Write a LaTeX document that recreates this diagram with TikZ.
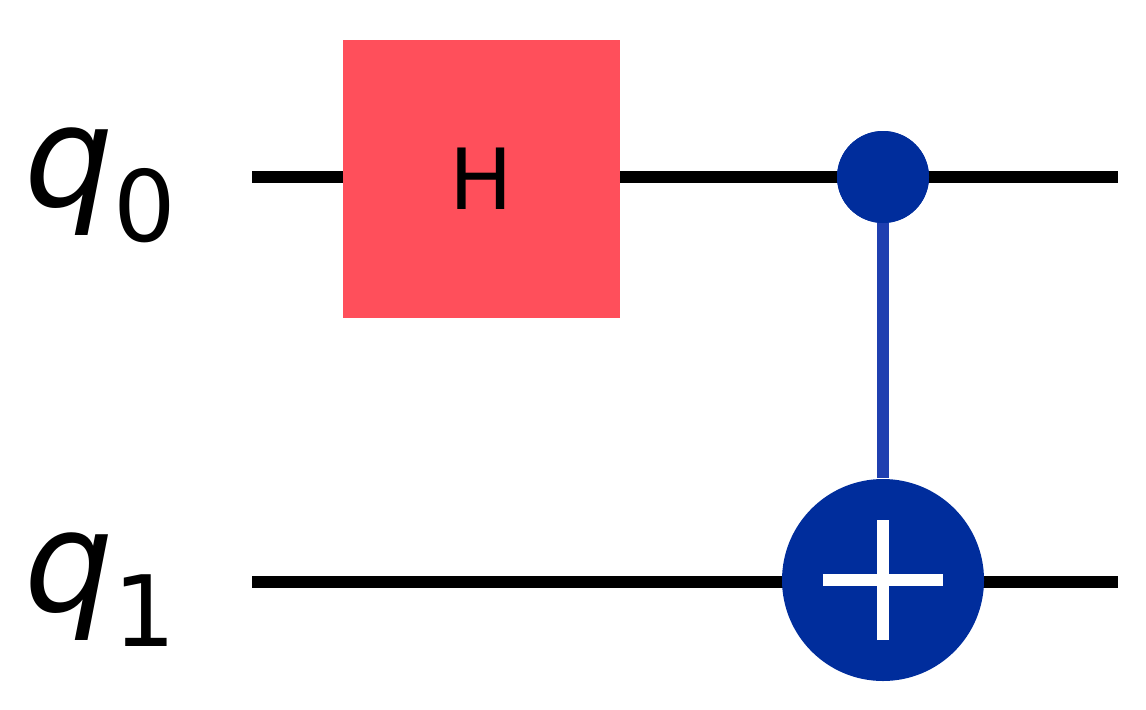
\documentclass[tikz,border=0pt]{standalone}
\usepackage{fontspec}
\setmainfont{DejaVu Sans}
\definecolor{hred}{HTML}{FF4F5B}
\definecolor{cblue}{HTML}{002D9C}
\definecolor{lblue}{HTML}{1F3FB0}
\begin{document}
\begin{tikzpicture}[x=0.01cm,y=-0.01cm,
  wire/.style={line width=12*0.2845pt},
  lbl/.style={font=\fontsize{40}{44}\selectfont}]
\useasboundingbox (0,0) rectangle (1146,709);
\node[lbl] (l0) at (100,185) {\textit{q}\raisebox{-0.25em}{\fontsize{28}{30}\selectfont 0}};
\node[lbl] (l1) at (100,590) {\textit{q}\raisebox{-0.25em}{\fontsize{28}{30}\selectfont 1}};
\coordinate (a0) at (252,177); \coordinate (b0) at (1118,177);
\coordinate (a1) at (252,582); \coordinate (b1) at (1118,582);
\draw[wire] (a0) -- (b0);
\draw[wire] (a1) -- (b1);
\node[fill=hred,minimum width=277*0.01cm,minimum height=278*0.01cm,inner sep=0,font=\fontsize{24}{26}\selectfont] (h) at (481.5,179) {H};
\node[circle,fill=cblue,minimum size=92*0.01cm,inner sep=0] (c) at (883,177) {};
\node[circle,fill=cblue,minimum size=202*0.01cm,inner sep=0] (t) at (883,580) {};
\draw[lblue,wire] (c.center) -- (t.north);
\node[circle,fill=cblue,minimum size=92*0.01cm,inner sep=0] at (c) {};
\draw[white,wire] ([yshift=-0.6cm]t.center) -- ([yshift=0.6cm]t.center);
\draw[white,wire] ([xshift=-0.6cm]t.center) -- ([xshift=0.6cm]t.center);
\end{tikzpicture}
\end{document}
